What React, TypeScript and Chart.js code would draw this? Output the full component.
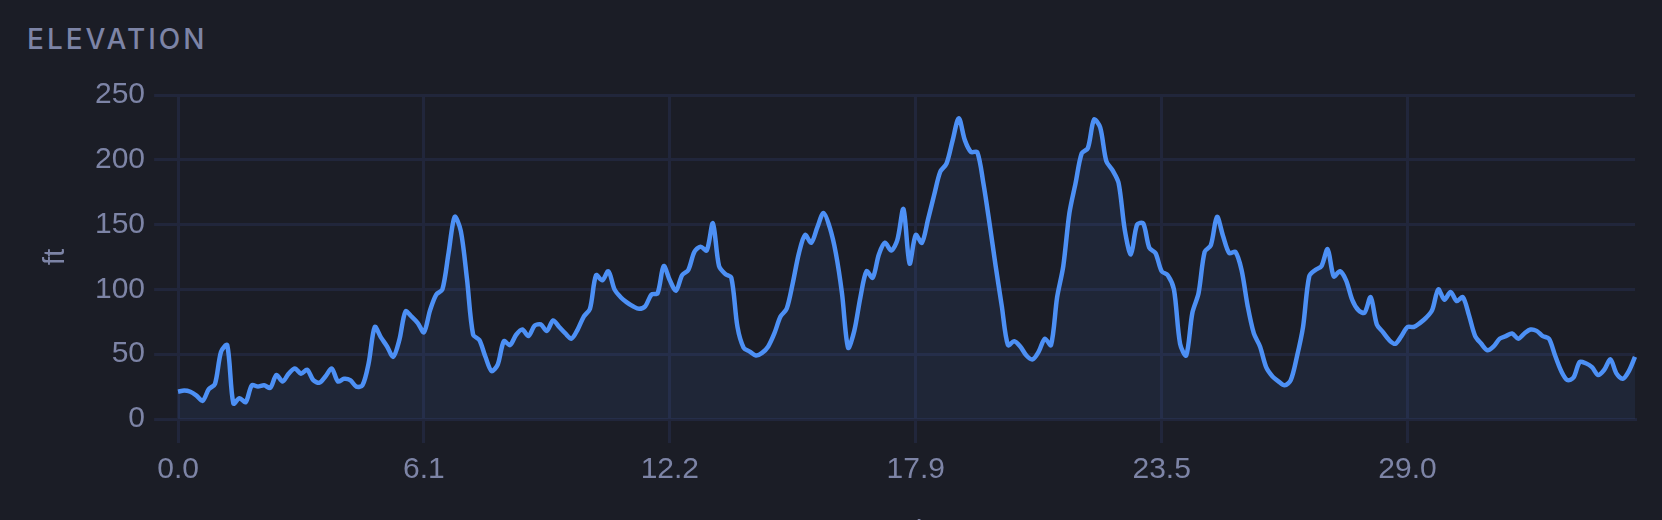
import React, { useEffect, useRef } from "react";
import { Chart, registerables } from "chart.js";

Chart.register(...registerables);

const distanceMi: string[] = [
  "0.0","0.2","0.3","0.5","0.6","0.8","0.9","1.1","1.2","1.4",
  "1.5","1.7","1.8","2.0","2.1","2.3","2.4","2.6","2.7","2.9",
  "3.1","3.2","3.4","3.5","3.7","3.8","4.0","4.1","4.3","4.4",
  "4.6","4.7","4.9","5.0","5.2","5.3","5.5","5.6","5.8","5.9",
  "6.1","6.2","6.4","6.6","6.7","6.9","7.0","7.2","7.3","7.5",
  "7.6","7.8","7.9","8.1","8.2","8.4","8.5","8.7","8.8","9.0",
  "9.2","9.3","9.5","9.6","9.8","9.9","10.1","10.2","10.4","10.5",
  "10.7","10.8","11.0","11.1","11.3","11.4","11.6","11.7","11.9","12.0",
  "12.2","12.3","12.5","12.6","12.8","12.9","13.1","13.2","13.3","13.5",
  "13.6","13.8","13.9","14.1","14.2","14.3","14.5","14.6","14.8","14.9",
  "15.1","15.2","15.3","15.5","15.6","15.8","15.9","16.0","16.2","16.3",
  "16.5","16.6","16.8","16.9","17.0","17.2","17.3","17.5","17.6","17.8",
  "17.9","18.0","18.2","18.3","18.5","18.6","18.7","18.9","19.0","19.2",
  "19.3","19.4","19.6","19.7","19.9","20.0","20.1","20.3","20.4","20.6",
  "20.7","20.8","21.0","21.1","21.3","21.4","21.5","21.7","21.8","22.0",
  "22.1","22.2","22.4","22.5","22.7","22.8","22.9","23.1","23.2","23.4",
  "23.5","23.6","23.8","23.9","24.1","24.2","24.3","24.5","24.6","24.7",
  "24.9","25.0","25.2","25.3","25.4","25.6","25.7","25.8","26.0","26.1",
  "26.3","26.4","26.5","26.7","26.8","26.9","27.1","27.2","27.4","27.5",
  "27.6","27.8","27.9","28.0","28.2","28.3","28.5","28.6","28.7","28.9",
  "29.0","29.1","29.3","29.4","29.6","29.7","29.8","30.0","30.1","30.3",
  "30.4","30.5","30.7","30.8","31.0","31.1","31.2","31.4","31.5","31.7",
  "31.8","31.9","32.1","32.2","32.4","32.5","32.6","32.8","32.9","33.1",
  "33.2","33.3","33.5","33.6","33.8","33.9","34.0","34.2",
];

const elevationFt: number[] = [
  21, 22, 21, 18, 14, 23, 27, 52, 57, 12,
  16, 13, 26, 25, 26, 24, 34, 29, 35, 39,
  35, 38, 30, 28, 33, 39, 29, 31, 30, 25,
  26, 43, 71, 63, 56, 48, 61, 83, 79, 74,
  67, 84, 96, 100, 128, 156, 145, 108, 65, 61,
  48, 37, 42, 60, 57, 65, 69, 64, 72, 73,
  68, 76, 71, 66, 62, 69, 79, 85, 111, 107,
  114, 100, 94, 90, 87, 85, 87, 96, 97, 118,
  107, 99, 111, 115, 129, 133, 130, 151, 118, 112,
  109, 71, 55, 52, 49, 51, 56, 66, 79, 85,
  105, 128, 142, 136, 148, 159, 148, 128, 97, 55,
  68, 94, 114, 109, 127, 136, 130, 138, 162, 120,
  142, 136, 154, 173, 191, 197, 215, 232, 215, 206,
  206, 182, 151, 118, 87, 57, 60, 56, 49, 46,
  52, 62, 57, 94, 118, 159, 182, 205, 209, 231,
  225, 199, 192, 182, 146, 127, 150, 151, 132, 128,
  114, 111, 100, 58, 49, 82, 97, 129, 134, 156,
  141, 128, 129, 115, 87, 66, 56, 40, 33, 29,
  26, 30, 48, 71, 110, 115, 118, 131, 110, 114,
  107, 92, 84, 82, 94, 73, 67, 61, 58, 64,
  71, 71, 74, 78, 84, 100, 92, 98, 91, 94,
  80, 64, 58, 53, 56, 62, 64, 66, 62, 66,
  69, 68, 64, 62, 49, 37, 30, 32, 44, 43,
  40, 34, 38, 46, 35, 31, 37, 48,
];

const yTicks = { min: 0, max: 250, step: 50 };

const BG = "#1b1d26";
const TEXT = "#7d84a6";
const GRID = "#21263b";
const LINE = "#4d90f5";

export default function App() {
  const canvasRef = useRef<HTMLCanvasElement | null>(null);

  useEffect(() => {
    if (!canvasRef.current) return;
    const font = { family: "'Liberation Sans', Arial, sans-serif", size: 30 };
    const chart = new Chart(canvasRef.current, {
      type: "line",
      data: {
        labels: distanceMi,
        datasets: [
          {
            data: elevationFt,
            borderColor: LINE,
            borderWidth: 4.5,
            backgroundColor: "rgba(77,144,245,0.085)",
            fill: "origin",
            pointRadius: 0,
            tension: 0.3,
          },
        ],
      },
      options: {
        animation: false,
        responsive: true,
        maintainAspectRatio: false,
        layout: { padding: { left: 26, right: 27, top: 35, bottom: 0 } },
        plugins: {
          legend: { display: false },
          tooltip: { enabled: false },
        },
        scales: {
          x: {
            type: "category",
            grid: { color: GRID, lineWidth: 3, tickLength: 24 },
            border: { color: GRID, width: 3 },
            ticks: {
              color: TEXT,
              font,
              padding: 9,
              autoSkip: true,
              maxTicksLimit: 6,
              maxRotation: 0,
              minRotation: 0,
            },
            title: {
              display: true,
              text: "mi",
              color: TEXT,
              font,
              padding: { top: 18, bottom: 6 },
            },
          },
          y: {
            min: yTicks.min,
            max: yTicks.max,
            grid: { color: GRID, lineWidth: 3, tickLength: 24 },
            border: { color: GRID, width: 3 },
            ticks: { color: TEXT, font, padding: 9, stepSize: yTicks.step },
            title: {
              display: true,
              text: "ft",
              color: TEXT,
              font,
              padding: { top: 12, bottom: 12 },
            },
          },
        },
      },
    });
    return () => chart.destroy();
  }, []);

  return (
    <div style={{ position: "fixed", inset: 0, background: BG, overflow: "hidden" }}>
      <div
        style={{
          position: "absolute",
          left: 27,
          top: 25,
          fontFamily: "Inter, 'Liberation Sans', sans-serif",
          fontWeight: 500,
          fontSize: 28,
          lineHeight: 1,
          letterSpacing: 3,
          color: TEXT,
          whiteSpace: "nowrap",
        }}
      >
        ELEVATION
      </div>
      <div style={{ position: "absolute", left: 0, top: 60, width: 1662, height: 497 }}>
        <canvas ref={canvasRef} />
      </div>
    </div>
  );
}
